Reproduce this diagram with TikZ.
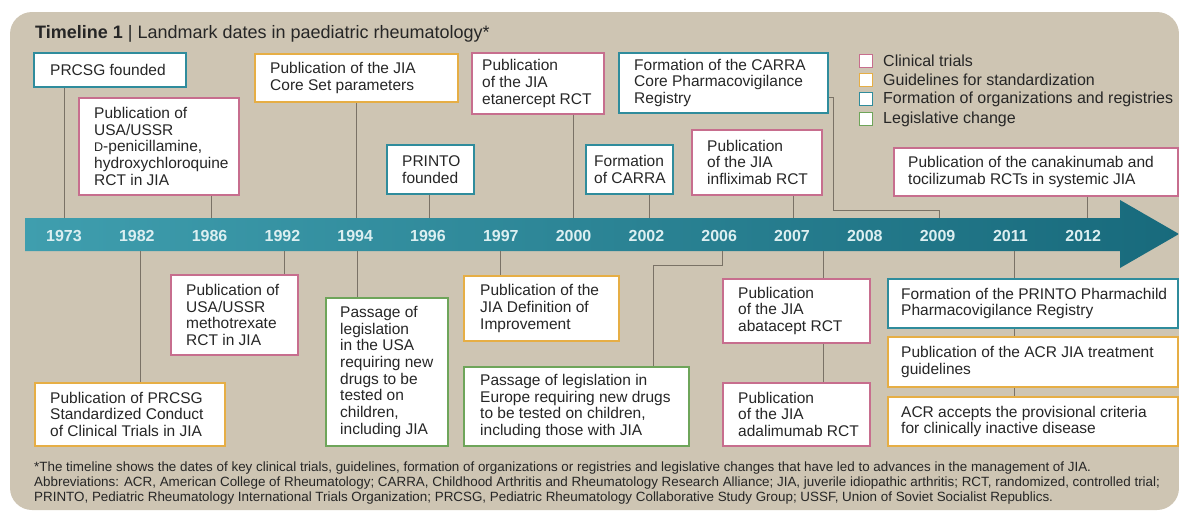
\documentclass[tikz,border=0pt]{standalone}
\usepackage{fontspec}
\setmainfont{Liberation Sans}
\usetikzlibrary{calc}
\definecolor{bgc}{HTML}{CEC5B3}
\definecolor{orgc}{HTML}{2F8C9C}
\definecolor{clinc}{HTML}{C76E8E}
\definecolor{guidc}{HTML}{E6AE45}
\definecolor{legc}{HTML}{6EA55A}
\definecolor{connc}{HTML}{7A7266}
\definecolor{barl}{HTML}{3F9EAE}
\definecolor{barr}{HTML}{186A7C}
\definecolor{yrc}{HTML}{DCEFF1}
\definecolor{txtc}{HTML}{262626}
\tikzset{
  tlframe/.style={draw, fill=white, line width=1.8pt, inner sep=0pt},
  org/.style={draw=orgc},
  clin/.style={draw=clinc},
  guid/.style={draw=guidc},
  legis/.style={draw=legc},
  tltext/.style={inner sep=0pt, align=left, text=txtc, font=\fontsize{15.5}{16.7}\selectfont},
  conn/.style={draw=connc, line width=1pt},
  yr/.style={text=yrc, font=\fontsize{16}{16}\selectfont\bfseries, inner sep=0pt},
  legbox/.style={draw, fill=white, line width=1.5pt, minimum size=13pt, inner sep=0pt},
  legtext/.style={text=txtc, font=\fontsize{16}{18}\selectfont, inner sep=0pt, anchor=west},
  foot/.style={text=txtc, font=\fontsize{13.4}{14}\selectfont, inner sep=0pt, anchor=west}
}
\newcommand\tlbox[8]{%
  \node[tlframe,#2,minimum width=#5pt,minimum height=#6pt,anchor=north west] (#1) at (#3,#4) {};
  \node[tltext,anchor=west] (#1t) at ([xshift=#7pt]#1.west) {#8};}
\newcommand\smD{{\fontsize{12.5}{12}\selectfont D}}
\begin{document}
\begin{tikzpicture}[x=1pt,y=-1pt]
\useasboundingbox (0,0) rectangle (1179,512);
\fill[bgc, rounded corners=22pt] (10,12) rectangle (1179,510);
% title
\node[anchor=base west, inner sep=0pt, text=txtc, font=\fontsize{18}{20}\selectfont] (title) at (35,38)
  {\textbf{Timeline 1} | Landmark dates in paediatric rheumatology*};
% bar
\shade[left color=barl, right color=barr] (25,218) -- (1120,218) -- (1120,200) -- (1179,234) -- (1120,268) -- (1120,251) -- (25,251) -- cycle;
\foreach \yv [count=\i from 0] in {1973,1982,1986,1992,1994,1996,1997,2000,2002,2006,2007,2008,2009,2011,2012}
  \node[yr] (y\yv) at ({64+72.8*\i},236) {\yv};
% bar attachment points
\foreach \nm/\xx in {a/64,b/211,c/356,d/429,e/573,f/649,g/793,h/1087,i/939}
  \coordinate (t\nm) at (\xx,218);
\foreach \nm/\xx in {a/140,b/284,c/357,d/500,e/722,f/823,g/1014}
  \coordinate (u\nm) at (\xx,251);
% top boxes
\tlbox{b1}{org}{33}{52}{152}{34}{17}{PRCSG founded}
\tlbox{b2}{clin}{78}{97}{160}{97}{16}{Publication of\\USA/USSR\\\smD-penicillamine,\\hydroxychloroquine\\RCT in JIA}
\tlbox{b3}{guid}{254}{53}{203}{48}{16}{Publication of the JIA\\Core Set parameters}
\tlbox{b4}{org}{386}{144}{87}{49}{16}{PRINTO\\founded}
\tlbox{b5}{clin}{471}{52}{132}{61}{11}{Publication\\of the JIA\\etanercept RCT}
\tlbox{b6}{org}{585}{144}{87}{49}{9}{Formation\\of CARRA}
\tlbox{b7}{org}{618}{52}{209}{60}{16}{Formation of the CARRA\\Core Pharmacovigilance\\Registry}
\tlbox{b8}{clin}{691}{129}{130}{65}{16}{Publication\\of the JIA\\infliximab RCT}
\tlbox{b9}{clin}{893}{147}{284}{48}{15}{Publication of the canakinumab and\\tocilizumab RCTs in systemic JIA}
% bottom boxes
\tlbox{c1}{guid}{34}{382}{190}{63}{16}{Publication of PRCSG\\Standardized Conduct\\of Clinical Trials in JIA}
\tlbox{c2}{clin}{170}{274}{127}{80}{16}{Publication of\\USA/USSR\\methotrexate\\RCT in JIA}
\tlbox{c3}{legis}{325}{297}{122}{148}{15}{Passage of\\legislation\\in the USA\\requiring new\\drugs to be\\tested on\\children,\\including JIA}
\tlbox{c4}{guid}{463}{275}{155}{65}{17}{Publication of the\\JIA Definition of\\Improvement}
\tlbox{c5}{legis}{463}{366}{225}{79}{17}{Passage of legislation in\\Europe requiring new drugs\\to be tested on children,\\including those with JIA}
\tlbox{c6}{clin}{722}{278}{147}{64}{16}{Publication\\of the JIA\\abatacept RCT}
\tlbox{c7}{clin}{722}{382}{147}{63}{16}{Publication\\of the JIA\\adalimumab RCT}
\tlbox{c8}{org}{887}{278}{290}{49}{14}{Formation of the PRINTO Pharmachild\\Pharmacovigilance Registry}
\tlbox{c9}{guid}{887}{336}{290}{50}{14}{Publication of the ACR JIA treatment\\guidelines}
\tlbox{c10}{guid}{887}{396}{290}{49}{14}{ACR accepts the provisional criteria\\for clinically inactive disease}
% top connectors
\draw[conn] (b1.south -| ta) -- (ta);
\draw[conn] (b2.south -| tb) -- (tb);
\draw[conn] (b3.south -| tc) -- (tc);
\draw[conn] (b4.south -| td) -- (td);
\draw[conn] (b5.south -| te) -- (te);
\draw[conn] (b6.south -| tf) -- (tf);
\draw[conn] (b8.south -| tg) -- (tg);
\draw[conn] (b9.south -| th) -- (th);
\coordinate (j7) at (833,210);
\draw[conn] ([yshift=-15pt]b7.east) -| (j7) -| (ti);
% bottom connectors
\draw[conn] (ua) -- (c1.north -| ua);
\draw[conn] (ub) -- (c2.north -| ub);
\draw[conn] (uc) -- (c3.north -| uc);
\draw[conn] (ud) -- (c4.north -| ud);
\coordinate (j5) at (653,265);
\draw[conn] (ue) |- (j5) -- (c5.north -| j5);
\draw[conn] (uf) -- (c6.north -| uf);
\draw[conn] (c6.south -| uf) -- (c7.north -| uf);
\draw[conn] (ug) -- (c8.north -| ug);
\draw[conn] (c8.south -| ug) -- (c9.north -| ug);
\draw[conn] (c9.south -| ug) -- (c10.north -| ug);
% legend
\node[legbox, draw=clinc] (l1) at (866,61) {};
\node[legbox, draw=guidc] (l2) at (866,80) {};
\node[legbox, draw=orgc] (l3) at (866,99) {};
\node[legbox, draw=legc] (l4) at (866,119) {};
\node[legtext] (l1t) at (883,61) {Clinical trials};
\node[legtext] (l2t) at (883,80) {Guidelines for standardization};
\node[legtext] (l3t) at (883,99) {Formation of organizations and registries};
\node[legtext] (l4t) at (883,119) {Legislative change};
% footnote
\node[foot] (f1) at (34,468) {*The timeline shows the dates of key clinical trials, guidelines, formation of organizations or registries and legislative changes that have led to advances in the management of JIA.};
\node[foot] (f2) at (34,483) {Abbreviations: ACR, American College of Rheumatology; CARRA, Childhood Arthritis and Rheumatology Research Alliance; JIA, juverile idiopathic arthritis; RCT, randomized, controlled trial;};
\node[foot] (f3) at (34,498) {PRINTO, Pediatric Rheumatology International Trials Organization; PRCSG, Pediatric Rheumatology Collaborative Study Group; USSF, Union of Soviet Socialist Republics.};
\end{tikzpicture}
\end{document}
